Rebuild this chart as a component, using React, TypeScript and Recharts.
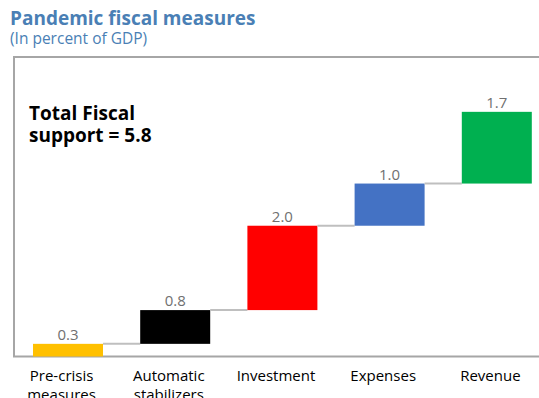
import React from 'react';
import { BarChart, Bar, XAxis, YAxis, Cell, LabelList, ReferenceArea } from 'recharts';

const categories = ['Pre-crisis measures', 'Automatic stabilizers', 'Investment', 'Expenses', 'Revenue'];
const tickLines = [['Pre-crisis', 'measures'], ['Automatic', 'stabilizers'], ['Investment'], ['Expenses'], ['Revenue']];
const values = [0.3, 0.8, 2.0, 1.0, 1.7];
const colors = ['#FFC000', '#000000', '#FF0000', '#4472C4', '#00B050'];
const totalSupport = 5.8;
const Y_MAX = 7.1;

// waterfall: invisible base + visible step
let running = 0;
const data = categories.map((name, i) => {
  const row = { name, base: running, value: values[i] };
  running += values[i];
  return row;
});

const FONT = '"Open Sans", "Noto Sans", sans-serif';
const CHART_W = 570;
const CHART_H = 398;
const M = { top: 57, right: 20, left: 14, bottom: 11.5 };
const BAR = 70;
const BAND = (CHART_W - M.left - M.right) / categories.length;
const GAP = BAND - BAR;

const StepBar = (props: any) => {
  const { x, y, width, height, index } = props;
  return (
    <g>
      <rect x={x} y={y} width={width} height={height} fill={colors[index]} />
      {index < categories.length - 1 && (
        <line x1={x + width} x2={x + width + GAP} y1={y} y2={y} stroke="#bfbfbf" strokeWidth={2} />
      )}
    </g>
  );
};

const Tick = (props: any) => {
  const { x, y, payload } = props;
  const lines = tickLines[payload.index] || [payload.value];
  const tx = x - 6;
  return (
    <text x={tx} y={y} textAnchor="middle" fontFamily={FONT} fontSize={15} fill="#000">
      {lines.map((l, i) => (
        <tspan key={i} x={tx} dy={i === 0 ? 16 : 19}>{l}</tspan>
      ))}
    </text>
  );
};

export default function App() {
  return (
    <div style={{ position: 'fixed', left: 0, top: 0, width: 539, height: 398, overflow: 'hidden', background: '#fff' }}>
      <div style={{ position: 'absolute', left: 0, top: 0 }}>
        <BarChart width={CHART_W} height={CHART_H} data={data} margin={M} barSize={BAR}>
          <ReferenceArea y1={0} y2={Y_MAX} fill="none" stroke="#a6a6a6" strokeWidth={2} />
          <XAxis dataKey="name" height={30} axisLine={false} tickLine={false} tick={<Tick />} interval={0} />
          <YAxis domain={[0, Y_MAX]} hide />
          <Bar dataKey="base" stackId="w" fill="transparent" isAnimationActive={false} />
          <Bar dataKey="value" stackId="w" shape={<StepBar />} isAnimationActive={false}>
            {data.map((d, i) => (
              <Cell key={d.name} fill={colors[i]} />
            ))}
            <LabelList
              dataKey="value"
              position="top"
              offset={4}
              formatter={(v: any) => Number(v).toFixed(1)}
              fill="#707070"
              fontSize={15}
              fontFamily={FONT}
            />
          </Bar>
        </BarChart>
      </div>
      <svg width={539} height={398} style={{ position: 'absolute', left: 0, top: 0, pointerEvents: 'none' }}>
        <text x={10} y={25} fontFamily={FONT} fontSize={19} fontWeight="bold" fill="#4a7fb5">Pandemic fiscal measures</text>
        <text x={10} y={44} fontFamily={FONT} fontSize={15.5} fill="#4a7fb5">(In percent of GDP)</text>
        <text x={29} y={120} fontFamily={FONT} fontSize={19} fontWeight="bold" fill="#000">
          <tspan x={29}>Total Fiscal</tspan>
          <tspan x={29} dy={22}>{`support = ${totalSupport}`}</tspan>
        </text>
      </svg>
    </div>
  );
}
